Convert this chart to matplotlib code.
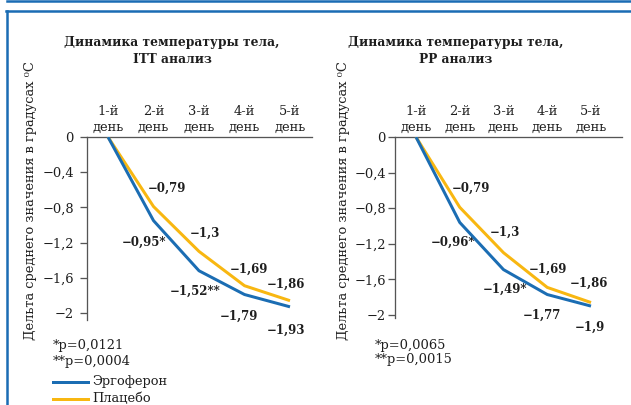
import matplotlib
matplotlib.use("Agg")
import matplotlib.pyplot as plt
from matplotlib.lines import Line2D

plt.rcParams['font.family'] = ['DejaVu Serif']

# ---- data ----
days = [1, 2, 3, 4, 5]
day_labels = ["1-й\nдень", "2-й\nдень", "3-й\nдень", "4-й\nдень", "5-й\nдень"]
yticks = [0, -0.4, -0.8, -1.2, -1.6, -2]
ytick_labels = ["0", "−0,4", "−0,8", "−1,2", "−1,6", "−2"]

itt_ergo = [0, -0.95, -1.52, -1.79, -1.93]
itt_plac = [0, -0.79, -1.30, -1.69, -1.86]
pp_ergo = [0, -0.96, -1.49, -1.77, -1.90]
pp_plac = [0, -0.79, -1.30, -1.69, -1.86]

itt_ergo_lbl = ["", "−0,95*", "−1,52**", "−1,79", "−1,93"]
itt_plac_lbl = ["", "−0,79", "−1,3", "−1,69", "−1,86"]
pp_ergo_lbl = ["", "−0,96*", "−1,49*", "−1,77", "−1,9"]
pp_plac_lbl = ["", "−0,79", "−1,3", "−1,69", "−1,86"]

titles = ["Динамика температуры тела,\nITT анализ", "Динамика температуры тела,\nPP анализ"]
ylabel = "Дельта среднего значения в градусах ⁰C"
foot_itt = "*p=0,0121\n**p=0,0004"
foot_pp = "*p=0,0065\n**p=0,0015"
series_names = ["Эргоферон", "Плацебо"]

BLUE = "#1b6db3"
YELLOW = "#f8b711"
FRAME = "#1a6cb4"
TXT = "#1e1e1e"
FS = 13

W, H = 631, 405
DPI = 72
fig = plt.figure(figsize=(W / DPI, H / DPI), dpi=DPI)


def px_axes(l, t, r, b):
    return fig.add_axes([l / W, 1 - b / H, (r - l) / W, (b - t) / H])


def draw_panel(ax, ergo, plac, ergo_lbl, plac_lbl, xlim, ylim,
               ergo_off, plac_off, ergo_ha, plac_ha, pad):
    ax.plot(days, plac, color=YELLOW, lw=3, solid_capstyle='butt', zorder=3)
    ax.plot(days, ergo, color=BLUE, lw=3, solid_capstyle='butt', zorder=4)
    ax.set_xlim(*xlim)
    ax.set_ylim(*ylim)
    for s in ['right', 'bottom']:
        ax.spines[s].set_visible(False)
    for s in ['left', 'top']:
        ax.spines[s].set_color('#555555')
        ax.spines[s].set_linewidth(1.3)
    ax.xaxis.tick_top()
    ax.set_xticks(days)
    ax.set_xticklabels(day_labels, fontsize=FS, linespacing=1.3)
    ax.tick_params(axis='x', length=0, pad=3, colors=TXT)
    ax.set_yticks(yticks)
    ax.set_yticklabels(ytick_labels, fontsize=FS)
    ax.tick_params(axis='y', length=7, width=1.3, color='#555555', pad=pad,
                   labelcolor=TXT)
    ax.patch.set_alpha(0)
    for i in range(1, len(days)):
        ax.annotate(plac_lbl[i], xy=(days[i], plac[i]), xytext=plac_off[i],
                    textcoords='offset points', ha=plac_ha[i], va='center',
                    fontsize=11.8, fontweight='bold', color=TXT)
        ax.annotate(ergo_lbl[i], xy=(days[i], ergo[i]), xytext=ergo_off[i],
                    textcoords='offset points', ha=ergo_ha[i], va='center',
                    fontsize=11.8, fontweight='bold', color=TXT)


# left panel
ax1 = px_axes(87, 137, 312, 320)
draw_panel(ax1, itt_ergo, itt_plac, itt_ergo_lbl, itt_plac_lbl,
           (1 - 21 / 45.5, 5 + 22 / 45.5), (-183 / 88, 0),
           [None, (13, -22), (21, -21), (-24.5, -21.5), (-23, -23)],
           [None, (-6, 18.5), (-9, 18), (-14.5, 16), (-23, 16)],
           [None, 'right', 'right', 'left', 'left'],
           [None, 'left', 'left', 'left', 'left'], 6)

# right panel
ax2 = px_axes(395, 137, 622, 318)
draw_panel(ax2, pp_ergo, pp_plac, pp_ergo_lbl, pp_plac_lbl,
           (1 - 21 / 43.75, 5 + 31 / 43.75), (-181 / 89, 0),
           [None, (15, -20), (23.5, -19.5), (-24, -20.5), (-16, -21)],
           [None, (-7.75, 19), (-13.5, 20), (-19, 18), (-21, 19.5)],
           [None, 'right', 'right', 'left', 'left'],
           [None, 'left', 'left', 'left', 'left'], 2)

# titles
for cx, t in [(172, titles[0]), (456, titles[1])]:
    fig.text(cx / W, 1 - 51 / H, t, ha='center', va='center', fontsize=12.2,
             fontweight='bold', color=TXT, linespacing=1.35)

# y labels
for cx in [31, 343]:
    fig.text(cx / W, 1 - 201 / H, ylabel, rotation=90, ha='center', va='center',
             fontsize=FS, color=TXT)

# footnotes
fig.text(53 / W, 1 - 353.5 / H, foot_itt, ha='left', va='center', fontsize=FS,
         color=TXT, linespacing=1.3)
fig.text(375 / W, 1 - 352.5 / H, foot_pp, ha='left', va='center', fontsize=FS,
         color=TXT, linespacing=1.2)

# legend
for (yy, col, name) in [(382, BLUE, series_names[0]), (399, YELLOW, series_names[1])]:
    fig.add_artist(Line2D([53 / W, 88 / W], [1 - yy / H, 1 - yy / H],
                          color=col, lw=3, transform=fig.transFigure))
    fig.text(92 / W, 1 - yy / H, name, ha='left', va='center', fontsize=FS,
             color=TXT)

# frame
fig.add_artist(Line2D([7 / W, 1], [1 - 1 / H, 1 - 1 / H], color=FRAME, lw=2.5,
                      transform=fig.transFigure))
fig.add_artist(Line2D([6 / W, 1], [1 - 10.5 / H, 1 - 10.5 / H], color=FRAME, lw=2.5,
                      transform=fig.transFigure))
fig.add_artist(Line2D([6.5 / W, 6.5 / W], [0, 1 - 10.5 / H], color=FRAME, lw=2.5,
                      transform=fig.transFigure))

fig.savefig("out.png", dpi=DPI)
